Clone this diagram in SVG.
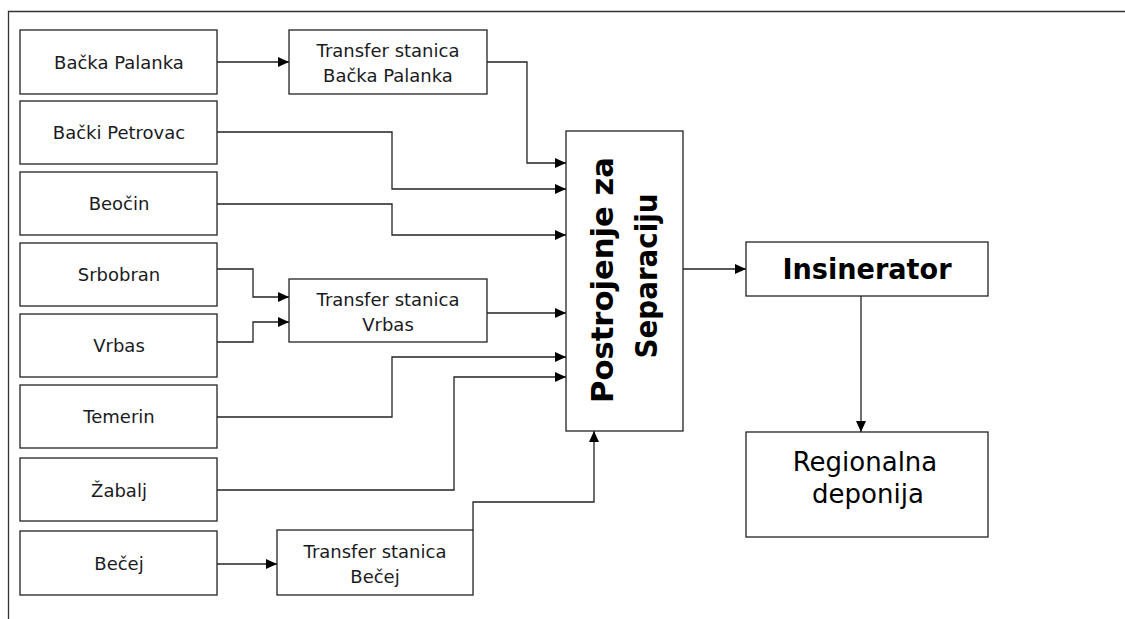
<svg xmlns="http://www.w3.org/2000/svg" width="1125" height="619" viewBox="0 0 1125 619">
<style>
.box{fill:#fff;stroke:#222;stroke-width:1.3}
.t{font-family:"DejaVu Sans",Verdana,sans-serif;font-size:18px;fill:#1a1a22;text-anchor:middle}
.big{font-family:"DejaVu Sans",Verdana,sans-serif;font-size:26px;fill:#000;text-anchor:middle}
.bold{font-family:"DejaVu Sans",Verdana,sans-serif;font-weight:bold;fill:#000;text-anchor:middle}
.c{fill:none;stroke:#222;stroke-width:1.3}
</style>
<defs>
<marker id="ah" markerUnits="userSpaceOnUse" markerWidth="12" markerHeight="10" refX="11" refY="5" orient="auto">
<path d="M0,0 L11,5 L0,10 Z" fill="#000"/>
</marker>
</defs>
<g id="frame" fill="none" stroke="#333" stroke-width="1.3">
<path d="M8.5,619 V11.5 H1125"/>
</g>
<g id="connectors">
<path class="c" d="M217,62 H289" marker-end="url(#ah)"/>
<path class="c" d="M487,62 H527 V163 H566" marker-end="url(#ah)"/>
<path class="c" d="M217,132 H392 V189 H566" marker-end="url(#ah)"/>
<path class="c" d="M217,204 H392 V235 H566" marker-end="url(#ah)"/>
<path class="c" d="M217,269 H253 V297 H289" marker-end="url(#ah)"/>
<path class="c" d="M217,342 H253 V322 H289" marker-end="url(#ah)"/>
<path class="c" d="M487,313 H566" marker-end="url(#ah)"/>
<path class="c" d="M217,417 H392 V357 H566" marker-end="url(#ah)"/>
<path class="c" d="M217,490 H454 V377 H566" marker-end="url(#ah)"/>
<path class="c" d="M217,564 H277" marker-end="url(#ah)"/>
<path class="c" d="M473,530 V502 H594 V431" marker-end="url(#ah)"/>
<path class="c" d="M683,269 H746" marker-end="url(#ah)"/>
<path class="c" d="M861,296 V432" marker-end="url(#ah)"/>
</g>
<g id="n-backa-palanka"><rect class="box" x="20" y="30" width="197" height="64"/><text class="t" x="119" y="69">Bačka Palanka</text></g>
<g id="n-backi-petrovac"><rect class="box" x="20" y="101" width="197" height="63"/><text class="t" x="119" y="139">Bački Petrovac</text></g>
<g id="n-beocin"><rect class="box" x="20" y="172" width="197" height="63"/><text class="t" x="119" y="210">Beočin</text></g>
<g id="n-srbobran"><rect class="box" x="20" y="243" width="197" height="63"/><text class="t" x="119" y="281">Srbobran</text></g>
<g id="n-vrbas"><rect class="box" x="20" y="314" width="197" height="63"/><text class="t" x="119" y="352">Vrbas</text></g>
<g id="n-temerin"><rect class="box" x="20" y="385" width="197" height="63"/><text class="t" x="119" y="423">Temerin</text></g>
<g id="n-zabalj"><rect class="box" x="20" y="458" width="197" height="63"/><text class="t" x="119" y="497">Žabalj</text></g>
<g id="n-becej"><rect class="box" x="20" y="531" width="197" height="64"/><text class="t" x="119" y="570">Bečej</text></g>
<g id="n-ts-backa-palanka"><rect class="box" x="289" y="30" width="198" height="64"/><text class="t" x="388" y="57">Transfer stanica</text><text class="t" x="388" y="82">Bačka Palanka</text></g>
<g id="n-ts-vrbas"><rect class="box" x="289" y="279" width="198" height="63"/><text class="t" x="388" y="306">Transfer stanica</text><text class="t" x="388" y="331">Vrbas</text></g>
<g id="n-ts-becej"><rect class="box" x="277" y="530" width="196" height="65"/><text class="t" x="375" y="558">Transfer stanica</text><text class="t" x="375" y="583">Bečej</text></g>
<g id="n-postrojenje"><rect class="box" x="566" y="131" width="117" height="300"/>
<text class="bold" font-size="30" textLength="246" lengthAdjust="spacingAndGlyphs" transform="translate(613,280) rotate(-90)">Postrojenje za</text>
<text class="bold" font-size="30" textLength="165" lengthAdjust="spacingAndGlyphs" transform="translate(657,276) rotate(-90)">Separaciju</text></g>
<g id="n-insinerator"><rect class="box" x="746" y="242" width="242" height="54"/><text class="bold" font-size="28" textLength="169" lengthAdjust="spacingAndGlyphs" x="867" y="279">Insinerator</text></g>
<g id="n-regionalna"><rect class="box" x="746" y="432" width="242" height="105"/><text class="big" x="865" y="471">Regionalna</text><text class="big" x="868" y="503">deponija</text></g>
</svg>
